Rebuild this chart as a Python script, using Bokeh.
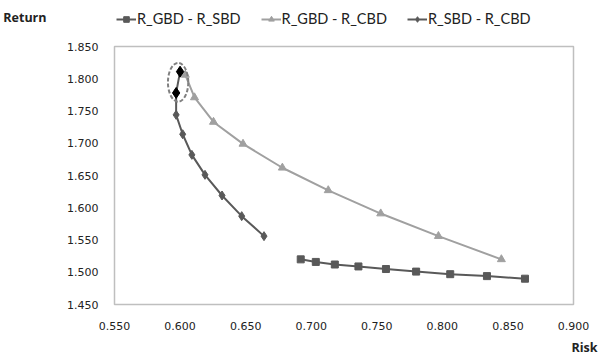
from bokeh.plotting import figure
from bokeh.layouts import column
from bokeh.models import (ColumnDataSource, Legend, LegendItem, Title, FixedTicker,
                          SingleIntervalTicker, NumeralTickFormatter, Range1d)
from bokeh.embed import file_html
from bokeh.resources import INLINE

# Data
gbd_sbd_risk = [0.692, 0.7035, 0.718, 0.736, 0.757, 0.780, 0.806, 0.834, 0.863]
gbd_sbd_ret = [1.520, 1.516, 1.512, 1.509, 1.505, 1.501, 1.497, 1.494, 1.490]

gbd_cbd_risk = [0.604, 0.611, 0.6255, 0.648, 0.678, 0.713, 0.753, 0.797, 0.845]
gbd_cbd_ret = [1.806, 1.771, 1.733, 1.699, 1.662, 1.627, 1.591, 1.556, 1.520]

sbd_cbd_risk = [0.600, 0.597, 0.597, 0.602, 0.609, 0.619, 0.632, 0.647, 0.664]
sbd_cbd_ret = [1.811, 1.778, 1.744, 1.714, 1.682, 1.651, 1.619, 1.587, 1.556]

highlight_idx = [0, 1]

series_names = ["R_GBD - R_SBD", "R_GBD - R_CBD", "R_SBD - R_CBD"]
y_title = "Return"
x_title = "Risk"
x_start, x_end, y_start, y_end = 0.55, 0.90, 1.45, 1.85

dark = "#595959"
light = "#a0a0a0"
txt = "#222222"

s1 = ColumnDataSource(dict(x=gbd_sbd_risk, y=gbd_sbd_ret))
s2 = ColumnDataSource(dict(x=gbd_cbd_risk, y=gbd_cbd_ret))
s3 = ColumnDataSource(dict(x=sbd_cbd_risk, y=sbd_cbd_ret))

# ---- header strip: "Return" + legend (frame aligned with main chart) ----
TOP_H = 38
MAIN_TOP = 8
top = figure(width=598, height=TOP_H, output_backend="svg", toolbar_location=None,
             x_range=Range1d(100, 101), y_range=Range1d(0, TOP_H),
             x_axis_type=None,
             min_border_left=113, min_border_right=25, min_border_top=0, min_border_bottom=0)
top.outline_line_color = None
top.xgrid.visible = False
top.ygrid.visible = False
top.border_fill_color = "white"

ya = top.yaxis[0]
ya.ticker = FixedTicker(ticks=[21])
ya.major_label_overrides = {21: y_title}
ya.axis_line_color = None
ya.major_tick_line_color = None
ya.minor_tick_line_color = None
ya.major_label_standoff = 62
ya.major_label_text_font = "Open Sans"
ya.major_label_text_font_style = "bold"
ya.major_label_text_font_size = "12.5px"
ya.major_label_text_color = txt

t_l1 = top.line("x", "y", source=s1, line_color=dark, line_width=2)
t_m1 = top.scatter("x", "y", source=s1, marker="square", size=7, fill_color=dark, line_color=dark)
t_l2 = top.line("x", "y", source=s2, line_color=light, line_width=2)
t_m2 = top.scatter("x", "y", source=s2, marker="triangle", size=8, fill_color=light, line_color=light)
t_l3 = top.line("x", "y", source=s3, line_color=dark, line_width=2)
t_m3 = top.scatter("x", "y", source=s3, marker="diamond", size=9, fill_color=dark, line_color=dark)

legend = Legend(items=[
    LegendItem(label=series_names[0], renderers=[t_l1, t_m1]),
    LegendItem(label=series_names[1], renderers=[t_l2, t_m2]),
    LegendItem(label=series_names[2], renderers=[t_l3, t_m3]),
], orientation="horizontal", location=(2, 11))
legend.label_text_font = "Lato"
legend.label_text_font_size = "14.5px"
legend.label_text_color = txt
legend.glyph_width = 20
legend.glyph_height = 14
legend.label_standoff = 1
legend.spacing = 20
legend.padding = 0
legend.margin = 0
legend.border_line_color = None
legend.background_fill_alpha = 0
top.add_layout(legend, "center")

# ---- main chart ----
p = figure(width=598, height=359 - TOP_H, output_backend="svg", toolbar_location=None,
           x_range=Range1d(x_start, x_end), y_range=Range1d(y_start, y_end),
           min_border_left=113, min_border_right=25, min_border_top=MAIN_TOP,
           min_border_bottom=55)
p.background_fill_color = "white"
p.border_fill_color = "white"
p.outline_line_color = "#bfbfbf"
p.outline_line_width = 1.5
p.xgrid.visible = False
p.ygrid.visible = False

for ax in (p.xaxis[0], p.yaxis[0]):
    ax.axis_line_color = None
    ax.major_tick_line_color = None
    ax.minor_tick_line_color = None
    ax.major_label_text_font = "DejaVu Sans"
    ax.major_label_text_font_size = "11px"
    ax.major_label_text_color = txt
    ax.formatter = NumeralTickFormatter(format="0.000")
    ax.ticker = SingleIntervalTicker(interval=0.05)
p.xaxis.major_label_standoff = 11
p.yaxis.major_label_standoff = 10

p.line("x", "y", source=s1, line_color=dark, line_width=2)
p.scatter("x", "y", source=s1, marker="square", size=7, fill_color=dark, line_color=dark)
p.line("x", "y", source=s2, line_color=light, line_width=2)
p.scatter("x", "y", source=s2, marker="triangle", size=8, fill_color=light, line_color=light)
p.line("x", "y", source=s3, line_color=dark, line_width=2)
p.scatter("x", "y", source=s3, marker="diamond", size=9, fill_color=dark, line_color=dark)

hx = [sbd_cbd_risk[i] for i in highlight_idx]
hy = [sbd_cbd_ret[i] for i in highlight_idx]
p.scatter(hx, hy, marker="diamond", size=11, fill_color="black", line_color="black")
cx = sum(hx) / len(hx)
cy = sum(hy) / len(hy)
p.ellipse(x=[cx], y=[cy], width=[0.0155], height=[0.060],
          fill_color=None, line_color="#808080", line_width=2, line_dash="4 2")

p.add_layout(Title(text=x_title, align="right", offset=-24, standoff=8,
                   text_font="Open Sans", text_font_style="bold",
                   text_font_size="12.5px", text_color=txt), "below")

layout = column(top, p, spacing=0)
open("out.html", "w").write(file_html(layout, INLINE))
